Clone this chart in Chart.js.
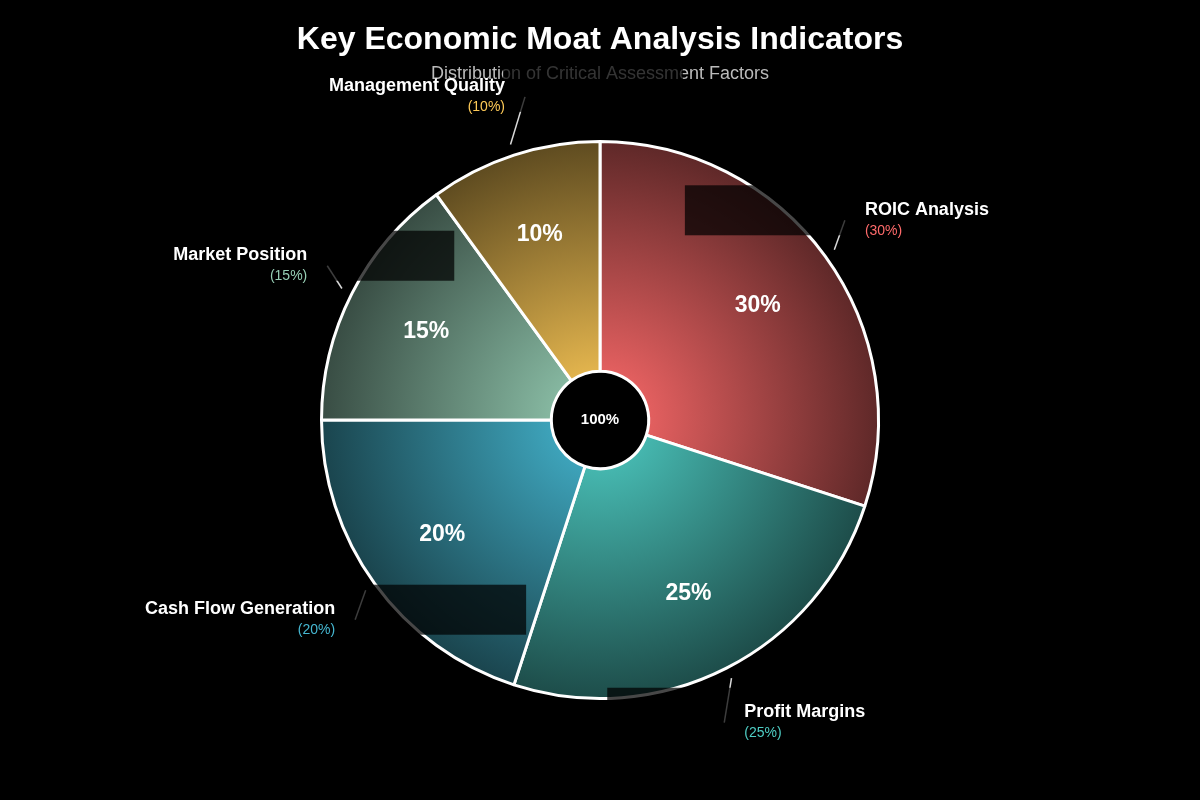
<!DOCTYPE html>
<html>
<head>
<meta charset="utf-8">
<title>Key Economic Moat Analysis Indicators</title>
<script src="https://cdn.jsdelivr.net/npm/chart.js@4.4.0/dist/chart.umd.min.js"></script>
<style>
    html, body { margin: 0; padding: 0; background: #000; }
    #wrap { width: 1200px; height: 800px; position: relative; }
</style>
</head>
<body>
<div id="wrap"><canvas id="moatChart"></canvas></div>
<script>
// =========================================
// Data
// =========================================

const factors = ["ROIC Analysis", "Profit Margins", "Cash Flow Generation", "Market Position", "Management Quality"];

const weights = [30, 25, 20, 15, 10];

const baseColors = ["#FF6B6B", "#4ECDC4", "#45B7D1", "#96CEB4", "#FECA57"];

const centerLabel = "100%";

// dark label plates: distance of the pie-side edge from the label anchor
const plateOffsets = [190, 147, 201, 157, 188];

Chart.defaults.font.family = "'Liberation Sans', Arial, sans-serif";

// =========================================
// Helpers
// =========================================

function darken(hex, f){

    let n = parseInt(hex.slice(1), 16);

    let r = Math.round(((n >> 16) & 255) * f);
    let g = Math.round(((n >> 8) & 255) * f);
    let b = Math.round((n & 255) * f);

    return "rgb(" + r + "," + g + "," + b + ")";

}

function sliceFill(context){

    let chart = context.chart;
    let area = chart.chartArea;
    let base = baseColors[context.dataIndex];

    if (!area) return base;

    let cx = (area.left + area.right) / 2;
    let cy = (area.top + area.bottom) / 2;
    let r = Math.min(area.right - area.left, area.bottom - area.top) / 2;

    let grad = chart.ctx.createRadialGradient(cx, cy, 0, cx, cy, r);
    grad.addColorStop(0, base);
    grad.addColorStop(1, darken(base, 0.37));

    return grad;

}

// =========================================
// Labels, leader lines, centre text
// =========================================

const moatLabels = {

    id: "moatLabels",

    afterDatasetsDraw(chart){

        let ctx = chart.ctx;
        let arcs = chart.getDatasetMeta(0).data;

        let items = arcs.map((arc, i) => {

            let p = arc.getProps(["x", "y", "startAngle", "endAngle", "outerRadius"], true);
            let mid = (p.startAngle + p.endAngle) / 2;
            let cos = Math.cos(mid);
            let sin = Math.sin(mid);

            return {
                i: i,
                p: p,
                cos: cos,
                sin: sin,
                right: cos >= 0,
                lx: p.x + cos * p.outerRadius * 1.22,
                ly: p.y + sin * p.outerRadius * 1.22
            };

        });

        ctx.save();

        // leader lines
        items.forEach(it => {

            let r0 = it.p.outerRadius * 1.04;

            ctx.beginPath();
            ctx.moveTo(it.p.x + it.cos * r0, it.p.y + it.sin * r0);
            ctx.lineTo(it.right ? it.lx - 30 : it.lx + 30, it.ly);
            ctx.strokeStyle = "rgba(255,255,255,0.85)";
            ctx.lineWidth = 1.5;
            ctx.stroke();

        });

        // dark plates
        items.forEach(it => {

            let w = 180;
            let off = plateOffsets[it.i];
            let x0 = it.right ? it.lx - off : it.lx + off - w;

            ctx.fillStyle = "rgba(0,0,0,0.72)";
            ctx.fillRect(x0, it.ly - 35, w, 50);

        });

        // outside labels
        items.forEach(it => {

            ctx.textAlign = it.right ? "left" : "right";
            ctx.textBaseline = "middle";

            let tx = it.right ? it.lx - 10 : it.lx + 10;

            ctx.fillStyle = "#ffffff";
            ctx.font = "bold 18px 'Liberation Sans', Arial, sans-serif";
            ctx.fillText(factors[it.i], tx, it.ly - 10.5);

            ctx.fillStyle = baseColors[it.i];
            ctx.font = "14px 'Liberation Sans', Arial, sans-serif";
            ctx.fillText("(" + weights[it.i] + "%)", tx, it.ly + 10.5);

        });

        // percentages inside slices
        items.forEach(it => {

            let r = it.p.outerRadius * 0.7;

            ctx.textAlign = "center";
            ctx.textBaseline = "middle";
            ctx.fillStyle = "#ffffff";
            ctx.font = "bold 23px 'Liberation Sans', Arial, sans-serif";
            ctx.fillText(weights[it.i] + "%", it.p.x + it.cos * r, it.p.y + it.sin * r);

        });

        // centre
        if (items.length){

            ctx.textAlign = "center";
            ctx.textBaseline = "middle";
            ctx.fillStyle = "#ffffff";
            ctx.font = "bold 15px 'Liberation Sans', Arial, sans-serif";
            ctx.fillText(centerLabel, items[0].p.x, items[0].p.y);

        }

        ctx.restore();

    }

};

// =========================================
// Chart
// =========================================

let ctx = document.getElementById("moatChart").getContext("2d");

let moatChart = new Chart(ctx, {

    type: "doughnut",

    data: {

        labels: factors,

        datasets: [

            {

                data: weights,

                backgroundColor: sliceFill,

                borderColor: "#ffffff",

                borderWidth: 3,

                hoverOffset: 0

            }

        ]

    },

    options: {

        responsive: true,

        maintainAspectRatio: false,

        animation: false,

        cutout: "17.5%",

        layout: {

            padding: { top: 0, bottom: 100, left: 0, right: 0 }

        },

        plugins: {

            legend: { display: false },

            tooltip: { enabled: false },

            title: {

                display: true,

                text: "Key Economic Moat Analysis Indicators",

                color: "#ffffff",

                font: { size: 32, weight: "bold" },

                padding: { top: 21, bottom: 3.8 }

            },

            subtitle: {

                display: true,

                text: "Distribution of Critical Assessment Factors",

                color: "#bbbbbb",

                font: { size: 18 },

                padding: { top: 0, bottom: 55.2 }

            }

        }

    },

    plugins: [moatLabels]

});
</script>
</body>
</html>
